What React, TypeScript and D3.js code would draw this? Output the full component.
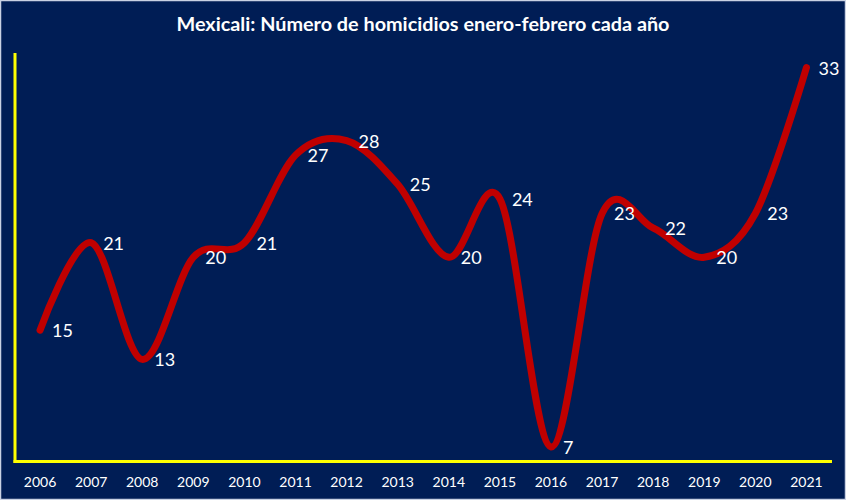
import React from "react";
import * as d3 from "d3";

const years = ["2006","2007","2008","2009","2010","2011","2012","2013","2014","2015","2016","2017","2018","2019","2020","2021"];
const homicides = [15, 21, 13, 20, 21, 27, 28, 25, 20, 24, 7, 23, 22, 20, 23, 33];
const yDomain = [6, 34];
const title = "Mexicali: Número de homicidios  enero-febrero cada año";

const W = 846;
const H = 500;
const BG = "#001d55";
const FONT = "Lato, 'Open Sans', sans-serif";

export default function App() {
  const x = d3.scaleBand<string>().domain(years).range([14.5, 832]);
  const y = d3.scaleLinear().domain(yDomain).range([461.5, 53]);
  const cx = (yr: string) => (x(yr) as number) + x.bandwidth() / 2;
  const pts: [number, number][] = years.map((yr, i) => [cx(yr), y(homicides[i])]);
  const line = d3.line().curve(d3.curveCatmullRom.alpha(0));
  const d = line(pts) || "";

  return (
    <svg width={W} height={H} style={{ position: "absolute", left: 0, top: 0, display: "block" }}
      xmlns="http://www.w3.org/2000/svg">
      <rect x={0} y={0} width={W} height={H} fill={BG} />
      <rect x={0.5} y={0.5} width={W - 1} height={H - 1} fill="none" stroke="#c9d1e3" strokeWidth={1.5} />
      <text x={W / 2} y={31} textAnchor="middle" fill="#ffffff" fontFamily={FONT}
        fontWeight="bold" fontSize={18} textLength={493} lengthAdjust="spacingAndGlyphs">
        {title}
      </text>
      {/* axes */}
      <line x1={15} y1={53} x2={15} y2={463} stroke="#ffff00" strokeWidth={3} />
      <line x1={13.5} y1={461.5} x2={832} y2={461.5} stroke="#ffff00" strokeWidth={3} />
      {years.map((yr) => (
        <text key={yr} x={cx(yr)} y={487} textAnchor="middle" fill="#ffffff"
          fontFamily={FONT} fontSize={14}>{yr}</text>
      ))}
      <path d={d} fill="none" stroke="#c00000" strokeWidth={7} strokeLinecap="round" strokeLinejoin="round" />
      {years.map((yr, i) => (
        <text key={"l" + yr} x={pts[i][0] + 12} y={pts[i][1] + 7} fill="#ffffff"
          fontFamily={FONT} fontSize={18}>{homicides[i]}</text>
      ))}
    </svg>
  );
}
